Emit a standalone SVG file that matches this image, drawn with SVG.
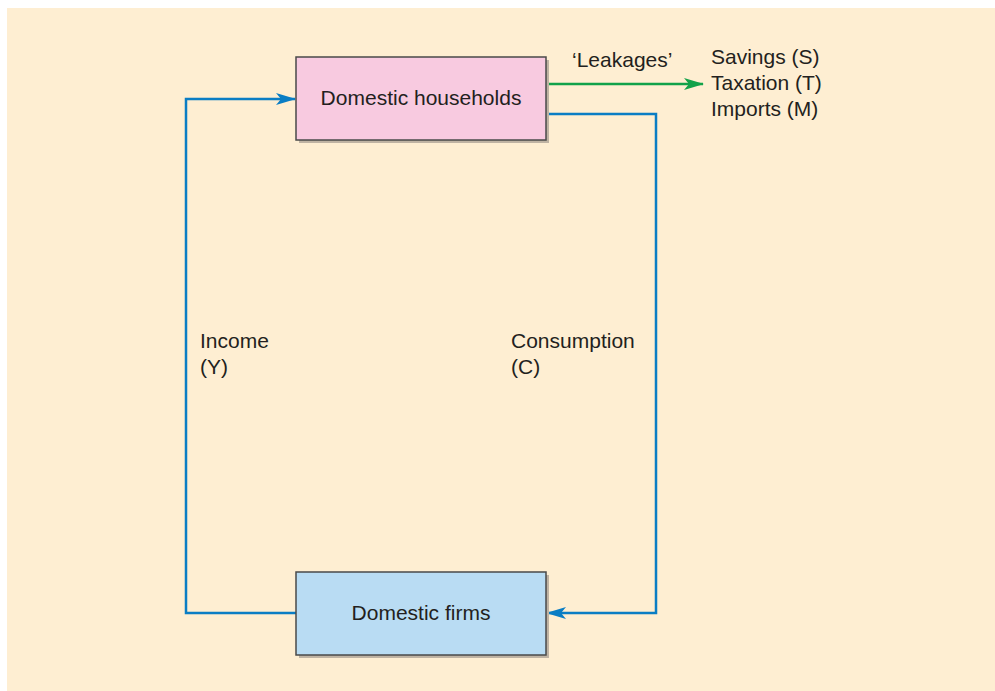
<svg xmlns="http://www.w3.org/2000/svg" width="995" height="691" viewBox="0 0 995 691">
<style>
text{font-family:"Liberation Sans",Arial,sans-serif;font-size:21px;fill:#231f20}
.box{stroke:#4a4a4a;stroke-width:1.5}
.shadow{fill:#bfb3a3}
.blue{fill:none;stroke:#0a7dc4;stroke-width:2.5}
.green{fill:none;stroke:#12a24a;stroke-width:2.5}
</style>
<defs>
<marker id="ab" viewBox="0 0 20 12" refX="19" refY="6" markerWidth="20" markerHeight="12" markerUnits="userSpaceOnUse" orient="auto"><path d="M0,0 L20,6 L0,12 L5,6 Z" fill="#0a7dc4"/></marker>
<marker id="ag" viewBox="0 0 20 12" refX="19" refY="6" markerWidth="20" markerHeight="12" markerUnits="userSpaceOnUse" orient="auto"><path d="M0,0 L20,6 L0,12 L5,6 Z" fill="#12a24a"/></marker>
</defs>
<rect x="0" y="0" width="995" height="691" fill="#ffffff"/>
<rect x="7" y="8" width="988" height="683" fill="#feeed2"/>
<g id="connectors">
<path class="blue" d="M296,613 H186 V99 H295" marker-end="url(#ab)"/>
<path class="blue" d="M546,114 H656 V613 H547" marker-end="url(#ab)"/>
<path class="green" d="M546,84 H703" marker-end="url(#ag)"/>
</g>
<g id="households">
<rect class="shadow" x="299" y="60" width="250" height="83"/>
<rect class="box" x="296" y="57" width="250" height="83" fill="#f8cae0"/>
<text x="421" y="105" text-anchor="middle">Domestic households</text>
</g>
<g id="firms">
<rect class="shadow" x="299" y="575" width="250" height="83"/>
<rect class="box" x="296" y="572" width="250" height="83" fill="#b9dcf3"/>
<text x="421" y="620" text-anchor="middle">Domestic firms</text>
</g>
<g id="leakages">
<text x="572" y="67">‘Leakages’</text>
<text x="711" y="64">Savings (S)</text>
<text x="711" y="90">Taxation (T)</text>
<text x="711" y="116">Imports (M)</text>
</g>
<g id="labels">
<text x="200" y="348">Income</text>
<text x="200" y="374">(Y)</text>
<text x="511" y="348">Consumption</text>
<text x="511" y="374">(C)</text>
</g>
</svg>
